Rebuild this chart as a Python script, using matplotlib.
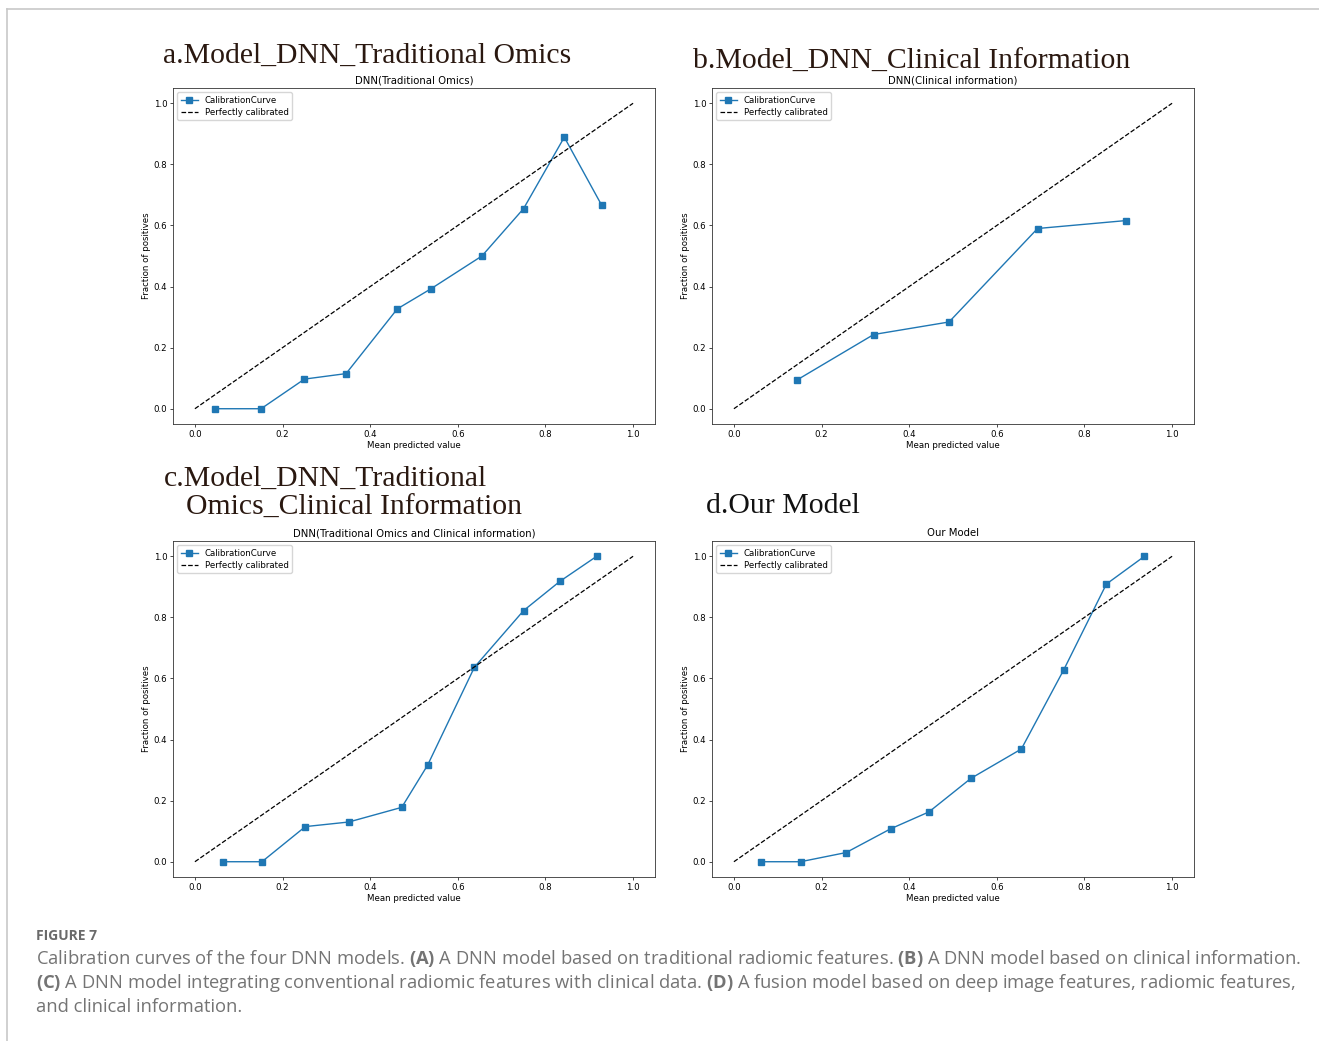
import matplotlib
matplotlib.use('Agg')
import matplotlib.pyplot as plt
from matplotlib.lines import Line2D

W, H = 1319, 1041

# calibration curves
a_x = [0.046, 0.151, 0.250, 0.345, 0.462, 0.538, 0.655, 0.750, 0.843, 0.928]
a_y = [0.0, 0.0, 0.097, 0.115, 0.327, 0.392, 0.500, 0.655, 0.889, 0.667]

b_x = [0.145, 0.319, 0.491, 0.693, 0.895]
b_y = [0.095, 0.243, 0.284, 0.590, 0.616]

c_x = [0.065, 0.153, 0.252, 0.351, 0.472, 0.531, 0.638, 0.750, 0.833, 0.917]
c_y = [0.0, 0.0, 0.115, 0.130, 0.178, 0.316, 0.637, 0.822, 0.918, 1.0]

d_x = [0.062, 0.152, 0.256, 0.358, 0.445, 0.541, 0.656, 0.753, 0.850, 0.937]
d_y = [0.0, 0.0, 0.030, 0.108, 0.163, 0.273, 0.369, 0.629, 0.909, 1.0]

panel_titles = ['DNN(Traditional Omics)', 'DNN(Clinical information)',
                'DNN(Traditional Omics and Clinical information)', 'Our Model']
ticks = [0.0, 0.2, 0.4, 0.6, 0.8, 1.0]

fig = plt.figure(figsize=(W / 100, H / 100), dpi=100)

# page frame lines (top and left)
fig.add_artist(Line2D([7 / W, 1], [1 - 9 / H, 1 - 9 / H], color='#c8c8c8', lw=1.2))
fig.add_artist(Line2D([7 / W, 7 / W], [0, 1 - 9 / H], color='#c8c8c8', lw=1.2))

# axes boxes in pixels: left, top, right, bottom
boxes = [(173, 88, 655, 424), (712, 88, 1194, 424),
         (173, 541, 655, 877), (712, 541, 1194, 877)]
data = [(a_x, a_y), (b_x, b_y), (c_x, c_y), (d_x, d_y)]

for (l, t, r, b), (xs, ys), title in zip(boxes, data, panel_titles):
    ax = fig.add_axes([l / W, 1 - b / H, (r - l) / W, (b - t) / H])
    ax.plot(xs, ys, 's-', color='#1f77b4', lw=1.0, ms=3.9, label='CalibrationCurve')
    ax.plot([0, 1], [0, 1], 'k--', lw=0.9, label='Perfectly calibrated')
    ax.set_xticks(ticks)
    ax.set_yticks(ticks)
    ax.tick_params(labelsize=6.2, width=0.5, length=2.2, pad=2)
    for s in ax.spines.values():
        s.set_linewidth(0.6)
        s.set_color('#333333')
    ax.set_xlabel('Mean predicted value', fontsize=6.2, labelpad=1.5)
    ax.set_ylabel('Fraction of positives', fontsize=6.2, labelpad=2)
    ax.set_title(title, fontsize=7.3, pad=3.5)
    ax.legend(loc='upper left', fontsize=6.2, handlelength=2.0, borderpad=0.4,
              labelspacing=0.35, framealpha=0.8)


def px(x, y):
    return x / W, 1 - y / H


serif = 'Liberation Serif'
brown = '#2a1810'
fig.text(*px(163, 63), 'a.Model_DNN_Traditional Omics', family=serif, fontsize=21.4,
         color=brown, va='baseline')
fig.text(*px(693, 69), 'b.Model_DNN_Clinical Information', family=serif, fontsize=21.4,
         color=brown, va='baseline')
fig.text(*px(164, 486), 'c.Model_DNN_Traditional', family=serif, fontsize=21.4,
         color=brown, va='baseline')
fig.text(*px(186, 515), 'Omics_Clinical Information', family=serif, fontsize=21.4,
         color=brown, va='baseline')
fig.text(*px(706, 513), 'd.Our Model', family=serif, fontsize=21.4,
         color='#111111', va='baseline')

# caption
plt.rcParams['mathtext.fontset'] = 'custom'
plt.rcParams['mathtext.rm'] = 'Open Sans'
plt.rcParams['mathtext.bf'] = 'Open Sans:bold'
cap_color = '#747474'
fig.text(*px(36, 940), 'FIGURE 7', family='Open Sans', fontsize=10, fontweight='bold',
         color='#6a6a6a', va='baseline')
lines = [
    r'Calibration curves of the four DNN models. $\mathbf{(A)}$ A DNN model based on traditional radiomic features. $\mathbf{(B)}$ A DNN model based on clinical information.',
    r'$\mathbf{(C)}$ A DNN model integrating conventional radiomic features with clinical data. $\mathbf{(D)}$ A fusion model based on deep image features, radiomic features,',
    'and clinical information.',
]
for i, s in enumerate(lines):
    fig.text(*px(36, 964 + 24 * i), s, family='Open Sans', fontsize=13.25,
             color=cap_color, va='baseline')

plt.savefig('out.png', dpi=100)
